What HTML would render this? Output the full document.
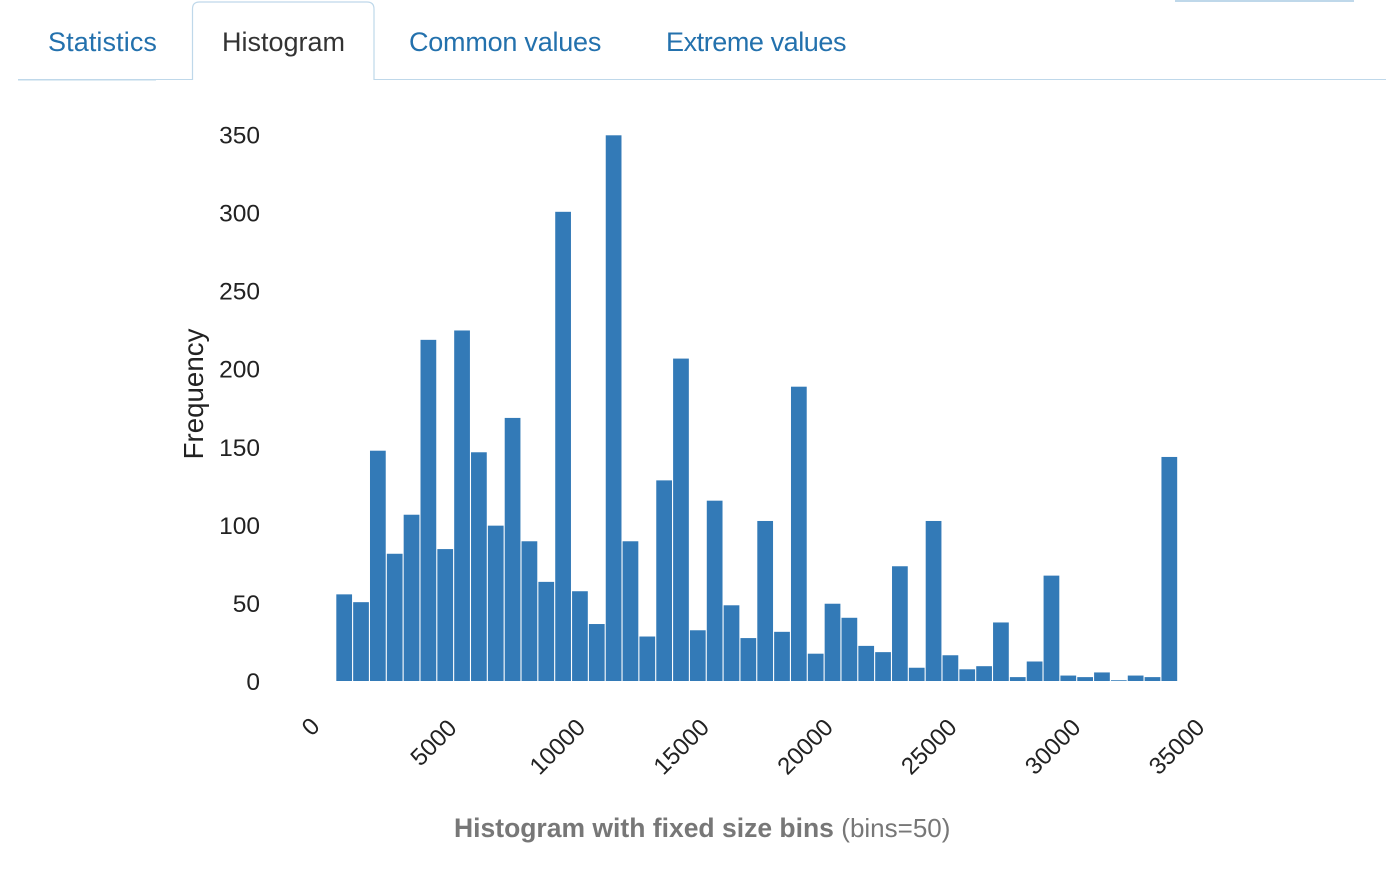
<!DOCTYPE html>
<html lang="en">
<head>
<meta charset="utf-8">
<title>Histogram</title>
<style>
html,body{margin:0;padding:0;background:#fff;}
body{width:1400px;height:871px;overflow:hidden;position:relative;font-family:"Liberation Sans",Arial,sans-serif;}
#chart{position:absolute;left:0;top:0;}
text{font-family:"Liberation Sans",Arial,sans-serif;}
</style>
</head>
<body>
<svg id="chart" width="1400" height="871" viewBox="0 0 1400 871">
  <g>
    <rect x="1175" y="0" width="179" height="2" fill="#bfd8ea"/>
    <rect x="18" y="79" width="138" height="1.5" fill="#bfd8ea"/>
    <rect x="156" y="79" width="37" height="1" fill="#bfd8ea"/>
    <rect x="374" y="79" width="1012" height="1" fill="#bfd8ea"/>
    <path d="M192.500 80 V9 Q192.500 2 199.500 2 H367 Q374 2 374 9 V80" fill="#fff" stroke="#bfd8ea" stroke-width="1.200"/>
    <text x="48" y="51" font-size="27" letter-spacing="0.1" fill="#2371ad">Statistics</text>
    <text x="222" y="51" font-size="27" fill="#333">Histogram</text>
    <text x="409" y="51" font-size="27" letter-spacing="-0.23" fill="#2371ad">Common values</text>
    <text x="666" y="51" font-size="27" letter-spacing="-0.43" fill="#2371ad">Extreme values</text>
  </g>
  <g id="bars"></g>
  <g id="y-ticks"></g>
  <g id="x-ticks"></g>
  <text transform="translate(203,394) rotate(-90)" text-anchor="middle" font-size="27.700" fill="#222">Frequency</text>
  <text x="454" y="837" font-size="26.500" fill="#777"><tspan font-weight="bold">Histogram with fixed size bins</tspan> <tspan font-size="26">(bins=50)</tspan></text>
</svg>
<script>
const counts = [56,51,148,82,107,219,85,225,147,100,169,90,64,301,58,37,350,90,29,129,207,33,116,49,28,103,32,189,18,50,41,23,19,74,9,103,17,8,10,38,3,13,68,4,3,6,1,4,3,144];
const binStart = 1050;
const binEnd = 35040;
const yTickValues = [0,50,100,150,200,250,300,350];
const xTickValues = [0,5000,10000,15000,20000,25000,30000,35000];

const SVG_NS = 'http://www.w3.org/2000/svg';
function xScale(v){ return 310 + v * (867 / 35000); }
function yScale(v){ return 681 - v * (546.5 / 350); }

const barsGroup = document.getElementById('bars');
const binWidth = (binEnd - binStart) / counts.length;
counts.forEach(function(count, i){
  const x0 = xScale(binStart + i * binWidth);
  const x1 = xScale(binStart + (i + 1) * binWidth);
  const top = Math.min(yScale(count) + 0.8, yScale(0) - 0.6);
  const rect = document.createElementNS(SVG_NS, 'rect');
  rect.setAttribute('x', x0 + 0.3);
  rect.setAttribute('y', top);
  rect.setAttribute('width', x1 - x0 - 1.1);
  rect.setAttribute('height', yScale(0) - top);
  rect.setAttribute('fill', '#337ab7');
  
  
  barsGroup.appendChild(rect);
});

const yGroup = document.getElementById('y-ticks');
yTickValues.forEach(function(v){
  const t = document.createElementNS(SVG_NS, 'text');
  t.setAttribute('x', 260);
  t.setAttribute('y', yScale(v) + 9);
  t.setAttribute('text-anchor', 'end');
  t.setAttribute('font-size', '24.500');
  t.setAttribute('fill', '#222');
  
  
  t.textContent = String(v);
  yGroup.appendChild(t);
});

const xGroup = document.getElementById('x-ticks');
xTickValues.forEach(function(v){
  const t = document.createElementNS(SVG_NS, 'text');
  const cx = xScale(v) - (v >= 5000 ? 1 : 0);
  const cy = v === 0 ? 726 : (v < 10000 ? 742 : 746);
  t.setAttribute('transform', 'translate(' + cx + ',' + cy + ') rotate(-45)');
  t.setAttribute('y', 9);
  t.setAttribute('text-anchor', 'middle');
  t.setAttribute('font-size', '24');
  t.setAttribute('fill', '#222');
  
  
  t.textContent = String(v);
  xGroup.appendChild(t);
});
</script>
</body>
</html>
